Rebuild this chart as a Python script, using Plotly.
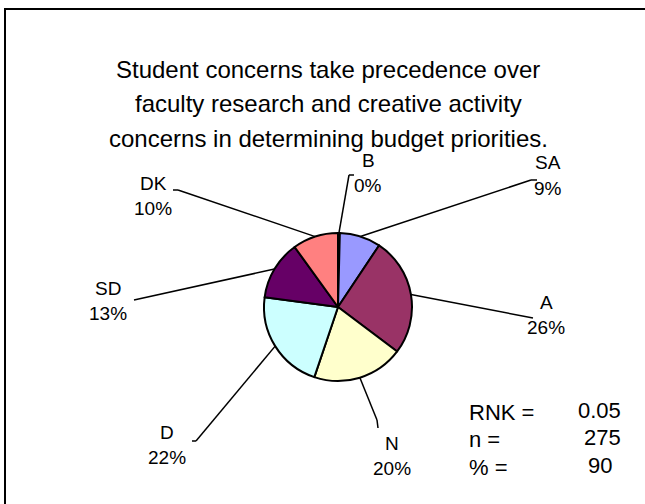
import math
import plotly.graph_objects as go

# ---- data ----
categories = ["B", "SA", "A", "N", "D", "SD", "DK"]
values = [0.4, 9, 26, 20, 22, 13, 10]
colors = ["#000000", "#9999FF", "#993366", "#FFFFCC", "#CCFFFF", "#660066", "#FF8080"]
title_lines = [
    "Student concerns take precedence over",
    "faculty research and creative activity",
    "concerns in determining budget priorities.",
]
stat_names = ["RNK =", "n =", "% ="]
stat_values = ["0.05", "275", "90"]

# ---- layout geometry (pixels) ----
W, H = 645, 504
CX, CY, R = 338, 307, 74
FONT = "Liberation Sans, Arial, sans-serif"

# label block centre (x, y of first line) and leader elbow/end points
label_layout = {
    "B":  dict(tx=368, ty=160, elbow=(349, 175), end=(354, 175)),
    "SA": dict(tx=548, ty=163, elbow=(531, 180), end=(537, 180)),
    "A":  dict(tx=546, ty=302, elbow=(533, 318), end=(533, 318)),
    "N":  dict(tx=392, ty=443, elbow=(377, 420), end=(378, 428)),
    "D":  dict(tx=167, ty=432, elbow=(196, 441), end=(192, 441)),
    "SD": dict(tx=108, ty=288, elbow=(134, 300), end=(134, 300)),
    "DK": dict(tx=153, ty=183, elbow=(178, 190), end=(173, 190)),
}


def px(x):
    return x / W


def py(y):
    return 1 - y / H


total = sum(values)
fig = go.Figure()
fig.add_trace(go.Pie(
    labels=categories, values=values, sort=False, direction="clockwise",
    rotation=0, textinfo="none", hoverinfo="label+percent",
    marker=dict(colors=colors, line=dict(color="black", width=2)),
    domain=dict(x=[px(CX - R), px(CX + R)], y=[py(CY + R), py(CY - R)]),
    showlegend=False,
))

shapes = []
annotations = []
cum = 0.0
for cat, v in zip(categories, values):
    mid = (cum + v / 2) / total * 2 * math.pi
    cum += v
    x0 = CX + R * math.sin(mid)
    y0 = CY - R * math.cos(mid)
    L = label_layout[cat]
    ex, ey = L["elbow"]
    fx, fy = L["end"]
    shapes.append(dict(type="line", xref="paper", yref="paper",
                       x0=px(x0), y0=py(y0), x1=px(ex), y1=py(ey),
                       line=dict(color="black", width=1.5)))
    if (ex, ey) != (fx, fy):
        shapes.append(dict(type="line", xref="paper", yref="paper",
                           x0=px(ex), y0=py(ey), x1=px(fx), y1=py(fy),
                           line=dict(color="black", width=1.5)))
    pct = f"{round(v / total * 100)}%"
    for i, t in enumerate([cat, pct]):
        annotations.append(dict(text=t, x=px(L["tx"]), y=py(L["ty"] + 25 * i),
                                xref="paper", yref="paper", showarrow=False,
                                xanchor="center", yanchor="middle",
                                font=dict(family=FONT, size=19, color="black")))

for i, t in enumerate(title_lines):
    annotations.append(dict(text=t, x=px(328), y=py(70 + 34 * i), xref="paper", yref="paper",
                            showarrow=False, xanchor="center", yanchor="middle",
                            font=dict(family=FONT, size=24, color="black")))

for i, (n, v) in enumerate(zip(stat_names, stat_values)):
    yy = 412 + 27.5 * i
    annotations.append(dict(text=n, x=px(467), y=py(yy), xref="paper", yref="paper",
                            showarrow=False, xanchor="left", yanchor="middle",
                            font=dict(family=FONT, size=22, color="black")))
    annotations.append(dict(text=v, x=px(623 - (9 if i == 2 else 0)), y=py(yy - 2), xref="paper", yref="paper",
                            showarrow=False, xanchor="right", yanchor="middle",
                            font=dict(family=FONT, size=22, color="black")))

# outer frame
shapes.append(dict(type="rect", xref="paper", yref="paper",
                   x0=px(5), y0=py(9), x1=px(W + 10), y1=py(H + 10),
                   line=dict(color="black", width=2), fillcolor="rgba(0,0,0,0)"))

fig.update_layout(
    width=W, height=H, margin=dict(l=0, r=0, t=0, b=0),
    paper_bgcolor="white", plot_bgcolor="white",
    shapes=shapes, annotations=annotations,
)
fig.write_html("out.html", config={"displayModeBar": False},
               post_script="document.body.style.margin='0';document.body.style.overflow='hidden';")
